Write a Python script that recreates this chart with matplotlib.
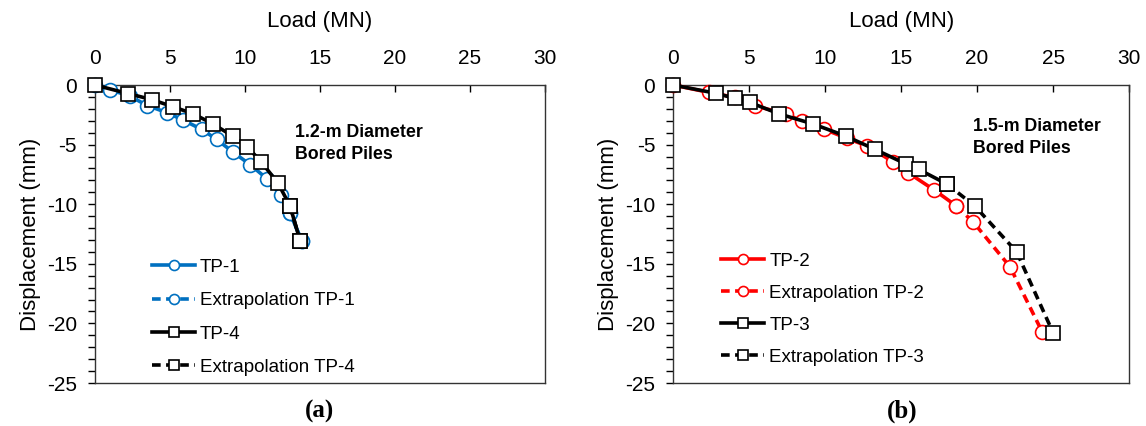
import matplotlib
matplotlib.use("Agg")
import matplotlib.pyplot as plt
from matplotlib.ticker import MultipleLocator

plt.rcParams['font.family'] = ['Liberation Sans', 'DejaVu Sans']
plt.rcParams['axes.unicode_minus'] = False

# (a) 1.2-m piles
tp1_last = [0, 1.0, 2.33, 3.49, 4.82, 5.84, 7.11, 8.11, 9.18, 10.33, 11.49, 12.38, 13.0, 13.78]
tp1_disp = [0, -0.39, -0.94, -1.72, -2.33, -2.92, -3.72, -4.56, -5.61, -6.67, -7.89, -9.22, -10.75, -13.06]
tp1_ext_last = [13.0, 13.78]
tp1_ext_disp = [-10.75, -13.06]

tp4_last = [0, 2.22, 3.78, 5.22, 6.56, 7.84, 9.22, 10.16, 11.07, 12.18, 13.0, 13.67]
tp4_disp = [0, -0.72, -1.22, -1.83, -2.42, -3.25, -4.31, -5.19, -6.44, -8.19, -10.14, -13.06]
tp4_ext_last = [13.0, 13.67]
tp4_ext_disp = [-10.14, -13.06]

# (b) 1.5-m piles
tp2_last = [0, 2.36, 4.04, 5.35, 7.42, 8.47, 9.89, 11.46, 12.77, 14.45, 15.46, 17.18, 18.62]
tp2_disp = [0, -0.62, -1.03, -1.73, -2.43, -3.02, -3.69, -4.48, -5.12, -6.43, -7.36, -8.81, -10.13]
tp2_ext_last = [18.62, 19.76, 22.16, 24.28]
tp2_ext_disp = [-10.13, -11.52, -15.24, -20.70]

tp3_last = [0, 2.84, 4.04, 5.02, 6.99, 9.21, 11.35, 13.28, 15.33, 16.16, 18.01]
tp3_disp = [0, -0.70, -1.12, -1.45, -2.43, -3.27, -4.28, -5.40, -6.63, -7.08, -8.31]
tp3_ext_last = [18.01, 19.83, 22.6, 25.0]
tp3_ext_disp = [-8.31, -10.13, -13.99, -20.78]

blue = "#0070C0"
red = "#FF0000"
dash = (0, (2.4, 1.5))

fig = plt.figure(figsize=(11.46, 4.26), dpi=100)
ax1 = fig.add_axes([0.0829, 0.1009, 0.3927, 0.6995])
ax2 = fig.add_axes([0.5875, 0.1009, 0.3977, 0.6995])


def tegn(ax, x1, y1, xe1, ye1, lab1, farge1, x2, y2, xe2, ye2, lab2):
    # sirkler (farget) og firkanter (svart)
    ax.plot(x1, y1, color=farge1, lw=2.6, marker="o", ms=10, mfc="white", mec=farge1, mew=1.2,
            label=lab1, zorder=3, clip_on=False)
    ax.plot(xe1, ye1, color=farge1, lw=2.6, ls=dash, marker="o", ms=10, mfc="white", mec=farge1, mew=1.2,
            label="Extrapolation " + lab1, zorder=2, clip_on=False)
    ax.plot(x2, y2, color="black", lw=2.6, marker="s", ms=9.5, mfc="white", mec="black", mew=1.2,
            label=lab2, zorder=5, clip_on=False)
    ax.plot(xe2, ye2, color="black", lw=2.6, ls=dash, marker="s", ms=9.5, mfc="white", mec="black", mew=1.2,
            label="Extrapolation " + lab2, zorder=4, clip_on=False)
    ax.set_xlim(0, 30)
    ax.set_ylim(-25, 0)
    ax.xaxis.set_major_locator(MultipleLocator(5))
    ax.yaxis.set_major_locator(MultipleLocator(5))
    ax.yaxis.set_minor_locator(MultipleLocator(1))
    ax.xaxis.tick_top()
    ax.xaxis.set_label_position("top")
    ax.tick_params(axis="x", direction="in", length=5, width=1, labelsize=15, pad=12)
    ax.tick_params(axis="y", which="both", direction="out", length=5, width=1, labelsize=15, pad=8)
    ax.set_xlabel("Load (MN)", fontsize=16, labelpad=16)
    ax.set_ylabel("Displacement (mm)", fontsize=16, labelpad=4)
    for s in ax.spines.values():
        s.set_linewidth(1.0)
        s.set_color("#333333")


tegn(ax1, tp1_last, tp1_disp, tp1_ext_last, tp1_ext_disp, "TP-1", blue,
     tp4_last, tp4_disp, tp4_ext_last, tp4_ext_disp, "TP-4")
tegn(ax2, tp2_last, tp2_disp, tp2_ext_last, tp2_ext_disp, "TP-2", red,
     tp3_last, tp3_disp, tp3_ext_last, tp3_ext_disp, "TP-3")

ax1.text(13.3, -3.3, "1.2-m Diameter\nBored Piles", fontsize=12.8, fontweight="bold", va="top", linespacing=1.35)
ax2.text(19.7, -2.8, "1.5-m Diameter\nBored Piles", fontsize=12.8, fontweight="bold", va="top", linespacing=1.35)

ax1.legend(loc="upper left", bbox_to_anchor=(0.11, 0.443), frameon=False, fontsize=13.5, markerscale=0.72,
           handlelength=2.3, handletextpad=0.25, labelspacing=0.87, borderaxespad=0)
ax2.legend(loc="upper left", bbox_to_anchor=(0.089, 0.463), frameon=False, fontsize=13.5, markerscale=0.72,
           handlelength=2.3, handletextpad=0.25, labelspacing=0.8, borderaxespad=0)

fig.text(0.2792, 0.02, "(a)", fontsize=18, fontweight="bold", family="Liberation Serif", ha="center")
fig.text(0.7875, 0.02, "(b)", fontsize=18, fontweight="bold", family="Liberation Serif", ha="center")

plt.savefig("out.png", dpi=100)
